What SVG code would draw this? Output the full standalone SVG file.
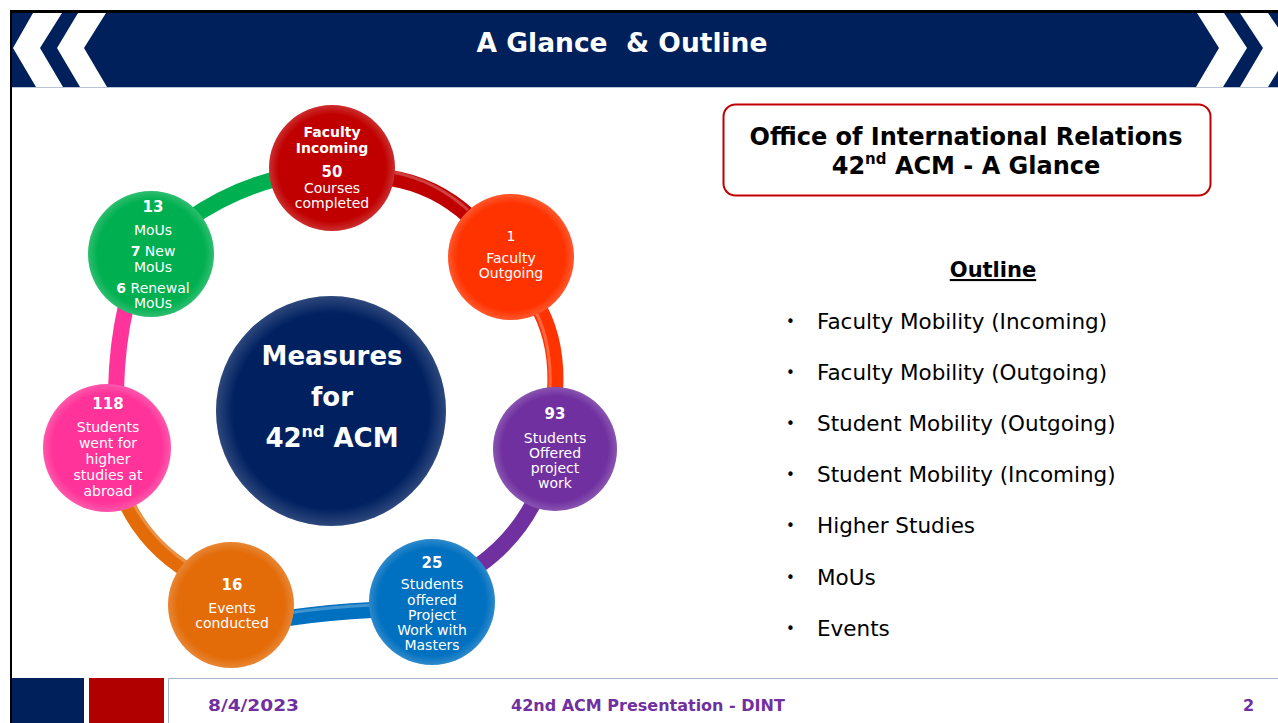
<svg xmlns="http://www.w3.org/2000/svg" width="1278" height="723" viewBox="0 0 1278 723">
<defs>
<style>
.t{font-family:"DejaVu Sans","Verdana",sans-serif;fill:#fff;text-anchor:middle}
.b{font-weight:bold}
.n{font-size:14px}
.con{fill:none;stroke-width:16;stroke-linecap:butt}
.hl{fill:none;stroke:#fff;stroke-opacity:0.25;stroke-width:3}
.out{font-family:"DejaVu Sans","Verdana",sans-serif;font-size:21.5px;fill:#000}
.bul{font-family:"DejaVu Sans","Verdana",sans-serif;font-size:15px;fill:#000}
.foot{font-family:"DejaVu Sans","Verdana",sans-serif;font-size:16px;font-weight:bold;fill:#7030A0}
</style>
<radialGradient id="gl" cx="0.5" cy="0.5" r="0.5">
<stop offset="0.85" stop-color="#fff" stop-opacity="0"/>
<stop offset="1" stop-color="#fff" stop-opacity="0.18"/>
</radialGradient>
<clipPath id="clipR"><rect x="0" y="0" width="1278" height="723"/></clipPath>
</defs>
<rect width="1278" height="723" fill="#fff"/>
<rect x="10" y="10" width="1268" height="3" fill="#000"/>
<rect x="10" y="10" width="2" height="713" fill="#000"/>
<g id="header">
<rect x="12" y="13" width="1266" height="74" fill="#00205B"/>
<rect x="12" y="87" width="1266" height="1" fill="#B8C4D6"/>
<polygon points="33,13 62,13 40,48 63,87 36,87 13,48" fill="#fff"/>
<polygon points="78,13 106,13 84,48 107,87 80,87 57,48" fill="#fff"/>
<polygon points="1197,13 1224,13 1247,48 1223,87 1196,87 1219,48" fill="#fff"/>
<polygon points="1240,13 1268,13 1292,48 1268,87 1240,87 1263,48" fill="#fff" clip-path="url(#clipR)"/>
<text x="622" y="52" class="t b" font-size="26.5" xml:space="preserve">A Glance  &amp; Outline</text>
</g>
<g id="connectors">
<path class="con" stroke="#00B050" d="M185,222 Q230,190 280,178"/>
<path class="con" stroke="#C00000" d="M390,178 Q435,185 470,217"/>
<path class="hl" d="M392,172 Q435,180 468,210"/>
<path class="con" stroke="#FF3300" d="M540,310 Q558,345 555,392"/>
<path class="hl" d="M536,312 Q552,345 550,390"/>
<path class="con" stroke="#7030A0" d="M535,500 Q515,540 478,566"/>
<path class="con" stroke="#0070C0" d="M372,610 Q330,612 288,618"/>
<path class="hl" d="M372,605 Q330,607 288,613"/>
<path class="con" stroke="#E36C09" d="M190,572 Q145,545 124,498"/>
<path class="hl" d="M195,568 Q152,542 130,497"/>
<path class="con" stroke="#FF3399" d="M116,390 Q117,345 126,306"/>
</g>
<g id="center">
<circle cx="331" cy="411" r="115" fill="#002060"/>
<circle cx="331" cy="411" r="115" fill="url(#gl)"/>
<text x="332" y="365" class="t b" font-size="26">Measures</text>
<text x="332" y="406" class="t b" font-size="26">for</text>
<text x="332" y="447" class="t b" font-size="26">42<tspan font-size="16" dy="-10">nd</tspan><tspan dy="10"> ACM</tspan></text>
</g>
<g id="faculty-incoming">
<circle cx="332" cy="168" r="63" fill="#C00000"/>
<circle cx="332" cy="168" r="63" fill="url(#gl)"/>
<text x="332" y="137" class="t b" font-size="14">Faculty</text>
<text x="332" y="153" class="t b" font-size="14">Incoming</text>
<text x="332" y="177" class="t b" font-size="15">50</text>
<text x="332" y="193" class="t n">Courses</text>
<text x="332" y="208" class="t n">completed</text>
</g>
<g id="faculty-outgoing">
<circle cx="511" cy="257" r="63" fill="#FF3300"/>
<circle cx="511" cy="257" r="63" fill="url(#gl)"/>
<text x="511" y="241" class="t n">1</text>
<text x="511" y="263" class="t n">Faculty</text>
<text x="511" y="278" class="t n">Outgoing</text>
</g>
<g id="project-work">
<circle cx="555" cy="449" r="62" fill="#7030A0"/>
<circle cx="555" cy="449" r="62" fill="url(#gl)"/>
<text x="555" y="419" class="t b" font-size="15">93</text>
<text x="555" y="443" class="t n">Students</text>
<text x="555" y="458" class="t n">Offered</text>
<text x="555" y="473" class="t n">project</text>
<text x="555" y="488" class="t n">work</text>
</g>
<g id="masters">
<circle cx="432" cy="602" r="63" fill="#0070C0"/>
<circle cx="432" cy="602" r="63" fill="url(#gl)"/>
<text x="432" y="568" class="t b" font-size="15">25</text>
<text x="432" y="589" class="t n">Students</text>
<text x="432" y="605" class="t n">offered</text>
<text x="432" y="620" class="t n">Project</text>
<text x="432" y="635" class="t n">Work with</text>
<text x="432" y="650" class="t n">Masters</text>
</g>
<g id="events">
<circle cx="231" cy="605" r="63" fill="#E36C09"/>
<circle cx="231" cy="605" r="63" fill="url(#gl)"/>
<text x="232" y="590" class="t b" font-size="15">16</text>
<text x="232" y="613" class="t n">Events</text>
<text x="232" y="628" class="t n">conducted</text>
</g>
<g id="higher-studies">
<circle cx="107" cy="448" r="64" fill="#FF3399"/>
<circle cx="107" cy="448" r="64" fill="url(#gl)"/>
<text x="108" y="409" class="t b" font-size="15">118</text>
<text x="108" y="432" class="t n">Students</text>
<text x="108" y="448" class="t n">went for</text>
<text x="108" y="464" class="t n">higher</text>
<text x="108" y="480" class="t n">studies at</text>
<text x="108" y="496" class="t n">abroad</text>
</g>
<g id="mous">
<circle cx="151" cy="254" r="63" fill="#00B050"/>
<circle cx="151" cy="254" r="63" fill="url(#gl)"/>
<text x="153" y="212" class="t b" font-size="15">13</text>
<text x="153" y="235" class="t n">MoUs</text>
<text x="153" y="256" class="t n"><tspan font-weight="bold">7</tspan> New</text>
<text x="153" y="272" class="t n">MoUs</text>
<text x="153" y="293" class="t n"><tspan font-weight="bold">6</tspan> Renewal</text>
<text x="153" y="308" class="t n">MoUs</text>
</g>
<g id="title-box">
<rect x="723.5" y="104.5" width="487" height="91" rx="12" fill="#fff" stroke="#C00000" stroke-width="2"/>
<text x="966" y="145" class="t b" font-size="24" style="fill:#000">Office of International Relations</text>
<text x="966" y="174" class="t b" font-size="24" style="fill:#000">42<tspan font-size="15" dy="-10">nd</tspan><tspan dy="10"> ACM - A Glance</tspan></text>
</g>
<g id="outline">
<text x="993" y="277" class="t b" font-size="21" style="fill:#000" text-decoration="underline">Outline</text>
<g class="bul">
<text x="786" y="327">•</text>
<text x="786" y="378">•</text>
<text x="786" y="429">•</text>
<text x="786" y="480">•</text>
<text x="786" y="531">•</text>
<text x="786" y="583">•</text>
<text x="786" y="634">•</text>
</g>
<g class="out">
<text x="817" y="329">Faculty Mobility (Incoming)</text>
<text x="817" y="380">Faculty Mobility (Outgoing)</text>
<text x="817" y="431">Student Mobility (Outgoing)</text>
<text x="817" y="482">Student Mobility (Incoming)</text>
<text x="817" y="533">Higher Studies</text>
<text x="817" y="585">MoUs</text>
<text x="817" y="636">Events</text>
</g>
</g>
<g id="footer">
<rect x="12" y="678" width="72" height="45" fill="#00205B"/>
<rect x="89" y="678" width="75" height="45" fill="#B00000"/>
<path d="M168.5,723 V678.5 H1278" fill="none" stroke="#A8B8CC" stroke-width="1"/>
<text x="208" y="711" class="foot" textLength="91" lengthAdjust="spacingAndGlyphs">8/4/2023</text>
<text x="511" y="711" class="foot">42nd ACM Presentation - DINT</text>
<text x="1243" y="711" class="foot">2</text>
</g>
</svg>
